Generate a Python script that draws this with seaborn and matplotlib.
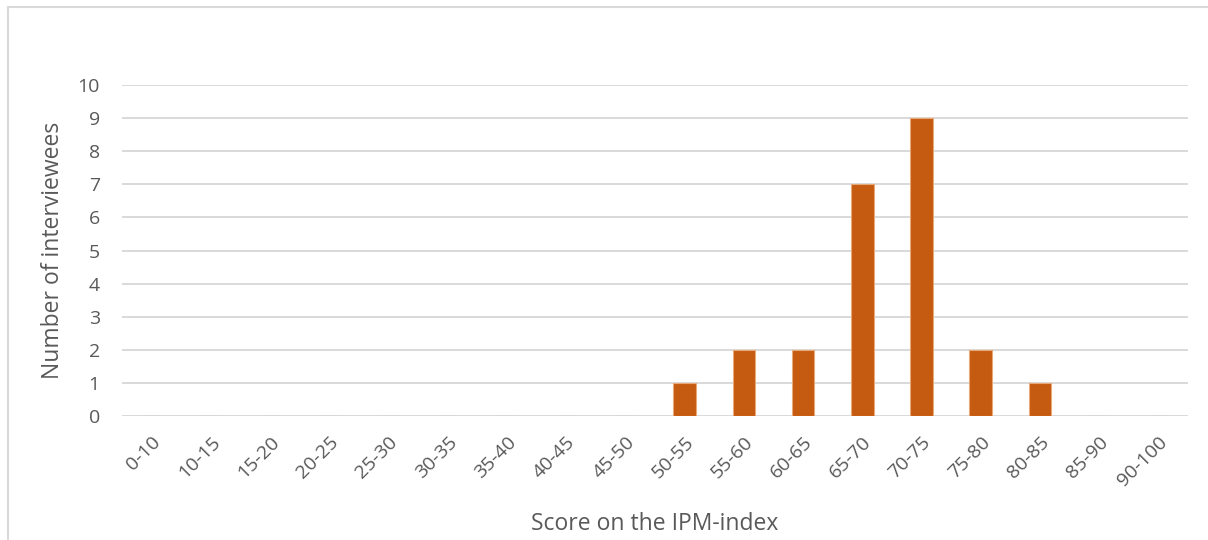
import matplotlib
matplotlib.use("Agg")
import matplotlib.pyplot as plt
import seaborn as sns
import pandas as pd
from matplotlib.patches import Rectangle

categories = ["0-10", "10-15", "15-20", "20-25", "25-30", "30-35", "35-40", "40-45",
              "45-50", "50-55", "55-60", "60-65", "65-70", "70-75", "75-80", "80-85",
              "85-90", "90-100"]
counts = [0, 0, 0, 0, 0, 0, 0, 0, 0, 1, 2, 2, 7, 9, 2, 1, 0, 0]

df = pd.DataFrame({"Score": categories, "Count": counts})

sns.set_theme(style="white")
plt.rcParams['font.family'] = ['Open Sans', 'DejaVu Sans']

W, H = 1208, 540
fig = plt.figure(figsize=(W / 100, H / 100), dpi=100)
ax = fig.add_axes([122 / W, (H - 416) / H, (1188 - 122) / W, (416 - 85) / H])

sns.barplot(data=df, x="Score", y="Count", ax=ax, color="#C55A11",
            width=0.38, edgecolor="#E8A878", linewidth=0.8, saturation=1, zorder=3)

ax.set_ylim(0, 10)
ax.set_xlim(-0.5, len(categories) - 0.5)
ax.set_yticks(range(0, 11))
ax.yaxis.grid(True, color="#D9D9D9", linewidth=1.4, zorder=0)
ax.set_axisbelow(True)
for s in ax.spines.values():
    s.set_visible(False)
ax.tick_params(axis="both", length=0, colors="#595959", labelsize=14)
ax.tick_params(axis="y", pad=16)
ax.tick_params(axis="x", pad=12)
plt.setp(ax.get_xticklabels(), rotation=45, ha="right", rotation_mode="anchor")

ax.set_xlabel("Score on the IPM-index", color="#595959", fontsize=16.5, va="center")
ax.set_ylabel("Number of interviewees", color="#595959", fontsize=16.5, va="center")
ax.xaxis.set_label_coords(0.5, -(524 - 416) / (416 - 85))
ax.yaxis.set_label_coords(-(122 - 53) / (1188 - 122), 0.5)

fig.patches.append(Rectangle((8 / W, -0.1), 1.2, (H - 7) / H + 0.1,
                             transform=fig.transFigure, fill=False,
                             edgecolor="#D9D9D9", linewidth=1.5))

fig.savefig("out.png", dpi=100, facecolor="white")
